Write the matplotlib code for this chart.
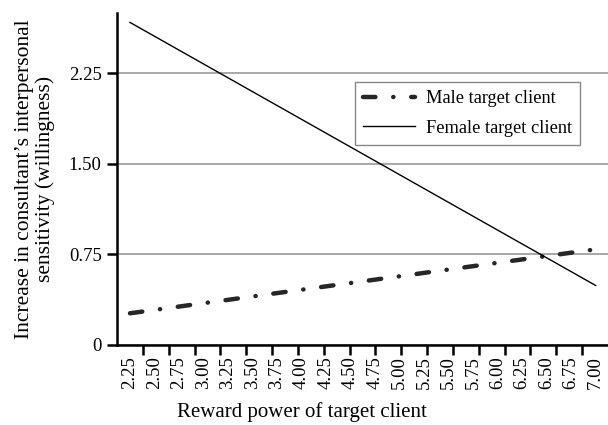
import numpy as np
import matplotlib.pyplot as plt

plt.rcParams['font.family'] = ['Liberation Serif', 'DejaVu Serif']

# Reward power categories (x axis)
reward_power = ['2.25', '2.50', '2.75', '3.00', '3.25', '3.50', '3.75', '4.00',
                '4.25', '4.50', '4.75', '5.00', '5.25', '5.50', '5.75', '6.00',
                '6.25', '6.50', '6.75', '7.00']

# Simple slopes, read at the low and high end of reward power
line_ends = ['2.25', '7.00']
male_client = [0.26, 0.79]
female_client = [2.67, 0.49]

y_ticks = [0, 0.75, 1.50, 2.25]
y_tick_labels = ['0', '0.75', '1.50', '2.25']

fig = plt.figure(figsize=(6.08, 4.25), dpi=100)
ax = fig.add_axes([0.1924, 0.189, 0.8076, 0.781])

pos = {c: i for i, c in enumerate(reward_power)}
x_ends = [pos[c] for c in line_ends]

ax.plot(x_ends, male_client, color='#262626', linewidth=3.2,
        linestyle=(0, (2.8, 4.0, 0.05, 4.0)), dash_capstyle='round',
        label='Male target client', zorder=3)
ax.plot(x_ends, female_client, color='black', linewidth=1.0,
        label='Female target client', zorder=3)

ax.set_xlim(-0.53, len(reward_power) - 0.5)
ax.set_ylim(0, 2.75)

# category labels without marks, boundary tick marks on the axis
ax.set_xticks(range(len(reward_power)), minor=True)
ax.set_xticklabels(reward_power, minor=True)
lo, hi = ax.get_xlim()
ax.set_xticks([lo + (hi - lo) * k / 19 for k in range(1, 19)])
ax.set_xticklabels([])
ax.tick_params(axis='x', which='minor', length=0, pad=8,
               labelrotation=90, labelsize=13.5)
ax.tick_params(axis='x', which='major', length=7, width=1.8, direction='out')

ax.set_yticks(y_ticks)
ax.set_yticklabels(y_tick_labels)
ax.tick_params(axis='y', length=7, width=1.8, direction='out', pad=4,
               labelsize=13.5)

ax.grid(axis='y', color='#999999', linewidth=1.2)
ax.set_axisbelow(True)

for side in ['top', 'right']:
    ax.spines[side].set_visible(False)
for side in ['left', 'bottom']:
    ax.spines[side].set_linewidth(1.8)

ax.set_xlabel('Reward power of target client', fontsize=15)
ax.xaxis.set_label_coords(0.377, -0.172)
ax.set_ylabel('Increase in consultant\u2019s interpersonal\nsensitivity (willingness)',
              fontsize=15.5, labelpad=10, linespacing=1.05)

leg = ax.legend(loc='upper left', bbox_to_anchor=(355 / 608, 1 - 81.7 / 425),
                bbox_transform=fig.transFigure, fontsize=13.2, frameon=True,
                fancybox=False, edgecolor='#888888', framealpha=1,
                handlelength=2.8, borderpad=0.45, labelspacing=0.7,
                handletextpad=0.6, borderaxespad=0)
leg.get_frame().set_linewidth(1.0)

fig.savefig('out.png', dpi=100)
